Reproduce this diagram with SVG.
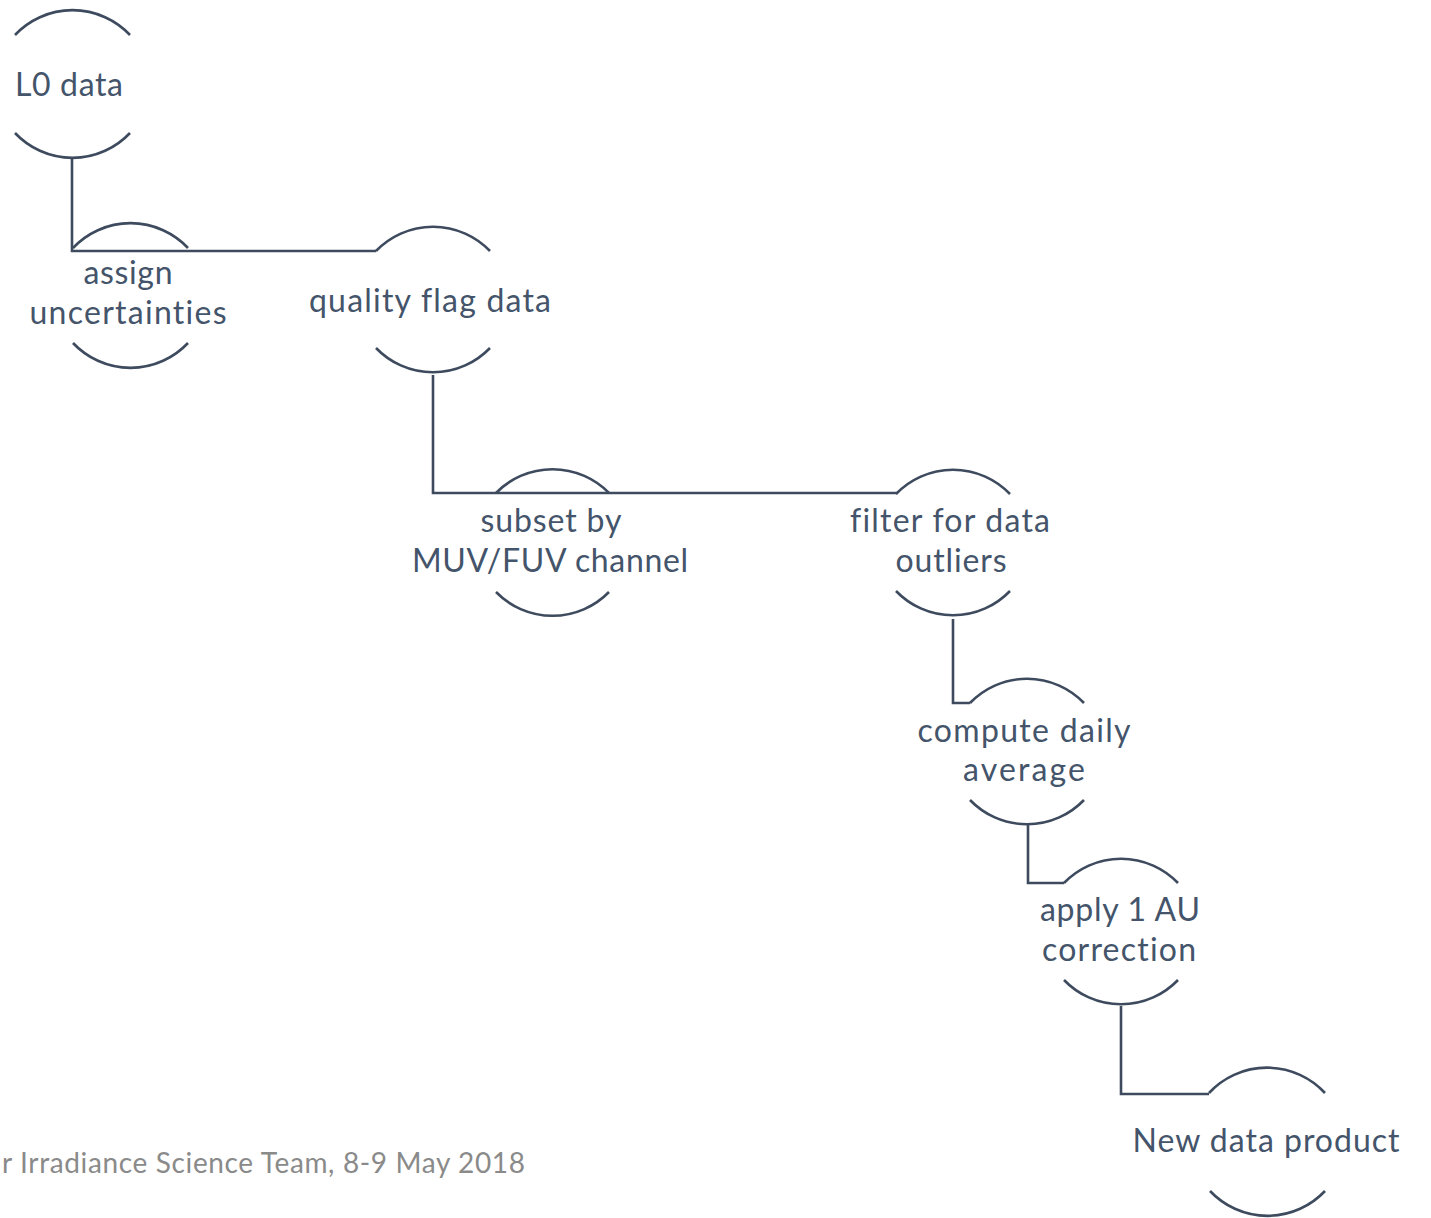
<svg xmlns="http://www.w3.org/2000/svg" width="1431" height="1218" viewBox="0 0 1431 1218">
<style>
.arc{fill:none;stroke:#3E4B5E;stroke-width:2.6}
.con{fill:none;stroke:#3E4B5E;stroke-width:2.6}
.lbl{font-family:Lato,"Liberation Sans",sans-serif;font-size:32px;fill:#44546A;text-anchor:middle;font-variant-ligatures:none}
.foot{font-family:Lato,"Liberation Sans",sans-serif;font-size:28px;fill:#8A8A8A;font-variant-ligatures:none}
</style>
<rect width="1431" height="1218" fill="#FFFFFF"/>
<g id="connectors">
<path class="con" d="M72,159 V251 H376"/>
<path class="con" d="M433,375 V493 H897"/>
<path class="con" d="M953,619 V703 H970"/>
<path class="con" d="M1028,825 V883 H1064"/>
<path class="con" d="M1121,1006 V1094 H1209"/>
</g>
<g id="n-l0">
<path class="arc" d="M15,35 A79,79 0 0 1 130,35"/>
<path class="arc" d="M15,133 A79,79 0 0 0 130,133"/>
<text class="lbl" x="69" y="96" textLength="108" lengthAdjust="spacing">L0 data</text>
</g>
<g id="n-assign">
<path class="arc" d="M73,248 A79,79 0 0 1 188,248"/>
<path class="arc" d="M73,343 A79,79 0 0 0 188,343"/>
<text class="lbl" x="128" y="284" textLength="89" lengthAdjust="spacing">assign</text>
<text class="lbl" x="128" y="324" textLength="197" lengthAdjust="spacing">uncertainties</text>
</g>
<g id="n-quality">
<path class="arc" d="M376,251 A79,79 0 0 1 490,251"/>
<path class="arc" d="M376,348 A79,79 0 0 0 490,348"/>
<text class="lbl" x="430" y="312" textLength="242" lengthAdjust="spacing">quality flag data</text>
</g>
<g id="n-subset">
<path class="arc" d="M496,493 A79,79 0 0 1 609,493"/>
<path class="arc" d="M496,592 A79,79 0 0 0 609,592"/>
<text class="lbl" x="551" y="532" textLength="141" lengthAdjust="spacing">subset by</text>
<text class="lbl" x="550" y="572" textLength="276" lengthAdjust="spacing">MUV/FUV channel</text>
</g>
<g id="n-filter">
<path class="arc" d="M896,494 A79,79 0 0 1 1010,494"/>
<path class="arc" d="M896,591 A79,79 0 0 0 1010,591"/>
<text class="lbl" x="950" y="532" textLength="200" lengthAdjust="spacing">filter for data</text>
<text class="lbl" x="951" y="572" textLength="111" lengthAdjust="spacing">outliers</text>
</g>
<g id="n-compute">
<path class="arc" d="M970,703 A79,79 0 0 1 1084,703"/>
<path class="arc" d="M970,800 A79,79 0 0 0 1084,800"/>
<text class="lbl" x="1024" y="742" textLength="213" lengthAdjust="spacing">compute daily</text>
<text class="lbl" x="1024" y="781" textLength="122" lengthAdjust="spacing">average</text>
</g>
<g id="n-apply">
<path class="arc" d="M1064,883 A79,79 0 0 1 1178,883"/>
<path class="arc" d="M1064,980 A79,79 0 0 0 1178,980"/>
<text class="lbl" x="1120" y="921" textLength="160" lengthAdjust="spacing">apply 1 AU</text>
<text class="lbl" x="1119" y="961" textLength="154" lengthAdjust="spacing">correction</text>
</g>
<g id="n-new">
<path class="arc" d="M1209,1093 A79,79 0 0 1 1325,1093"/>
<path class="arc" d="M1210,1191 A79,79 0 0 0 1325,1191"/>
<text class="lbl" x="1266" y="1152" textLength="267" lengthAdjust="spacing">New data product</text>
</g>
<text class="foot" x="2" y="1173" textLength="523" lengthAdjust="spacing">r Irradiance Science Team, 8-9 May 2018</text>
</svg>
